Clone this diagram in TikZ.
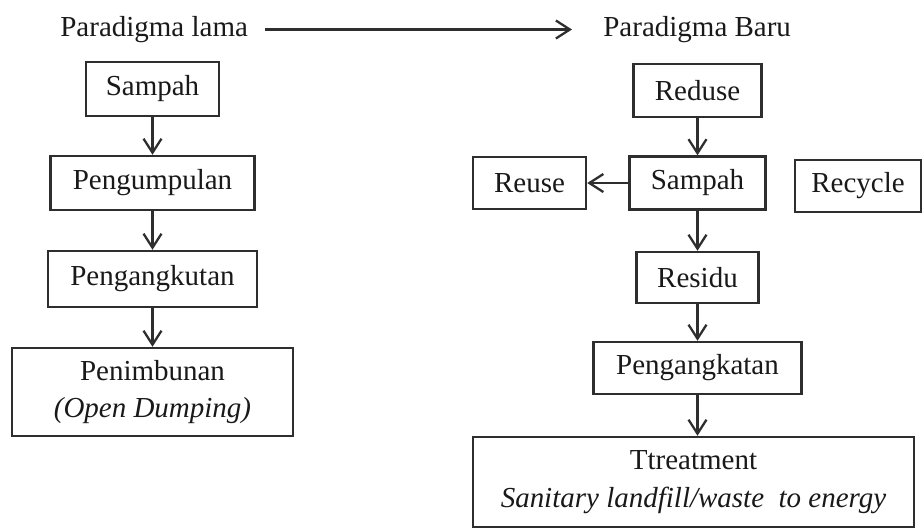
\documentclass[tikz,border=0pt]{standalone}
\usepackage{fontspec}
\setmainfont{Liberation Serif}
\usetikzlibrary{arrows.meta}
\colorlet{garis}{black!82}
\colorlet{teks}{black!90}

\begin{document}
\begin{tikzpicture}[
    box/.style={draw=garis, line width=1.4pt, text=teks, inner sep=0pt, align=center,
      font=\fontsize{16.5}{21.5}\selectfont},
    judul/.style={text=teks, inner sep=0pt, font=\fontsize{16.5}{21.5}\selectfont},
    panah/.style={-{Straight Barb[length=2.8mm,width=3.6mm]}, line width=1.3pt, garis}]
    \useasboundingbox (0,0) rectangle (18.48,-10.58);
    %--- Judul ---
    \node[judul, anchor=west] (lama) at (1.2,-0.59){Paradigma lama};
    \node[judul, anchor=west] (baru) at (12.06,-0.59){Paradigma Baru};
    \draw[panah, shorten <=0.34cm, shorten >=0.62cm](lama.east)--(baru.west);
    %--- Paradigma lama ---
    \node[box, minimum width=2.66cm, minimum height=1.08cm] (sampahL) at (3.05,-1.78){Sampah};
    \node[box, minimum width=4.08cm, minimum height=1.08cm] (kumpul) at (3.05,-3.66){Pengumpulan};
    \node[box, minimum width=4.18cm, minimum height=1.12cm] (angkut) at (3.05,-5.58){Pengangkutan};
    \node[box, minimum width=5.62cm, minimum height=1.76cm] (timbun) at (3.05,-7.84){Penimbunan\\\textit{(Open Dumping)}};
    \draw[panah](sampahL.south)--(kumpul.north);
    \draw[panah](kumpul.south)--(angkut.north);
    \draw[panah](angkut.south)--(timbun.north);
    %--- Paradigma baru ---
    \node[box, minimum width=2.56cm, minimum height=1.06cm] (reduse) at (13.95,-1.81){Reduse};
    \node[box, minimum width=2.72cm, minimum height=1.06cm] (sampahR) at (13.95,-3.66){Sampah};
    \node[box, minimum width=2.26cm, minimum height=1.04cm] (reuse) at (10.59,-3.66){Reuse};
    \node[box, minimum width=2.52cm, minimum height=1.04cm] (recycle) at (17.16,-3.72){Recycle};
    \node[box, minimum width=2.44cm, minimum height=1.02cm] (residu) at (13.95,-5.55){Residu};
    \node[box, minimum width=4.16cm, minimum height=1.04cm] (angkat) at (13.95,-7.36){Pengangkatan};
    \node[box, minimum width=8.82cm, minimum height=1.80cm] (treat) at (13.87,-9.64){Ttreatment\\\textit{Sanitary landfill/waste\ \ to energy}};
    \draw[panah](reduse.south)--(sampahR.north);
    \draw[panah](sampahR.west)--(reuse.east);
    \draw[panah](sampahR.south)--(residu.north);
    \draw[panah](residu.south)--(angkat.north);
    \draw[panah](angkat.south)--(angkat.south |- treat.north);
  \end{tikzpicture}
\end{document}
